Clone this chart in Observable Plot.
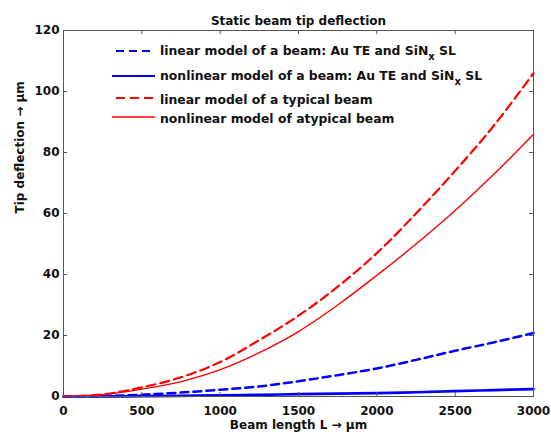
<!DOCTYPE html>
<html>
<head>
<meta charset="utf-8">
<script src="https://cdn.jsdelivr.net/npm/d3@7"></script>
<script src="https://cdn.jsdelivr.net/npm/@observablehq/plot@0.6"></script>
<style>
  html, body { margin: 0; padding: 0; background: #fff; }
  #chart { width: 551px; height: 438px; }
</style>
</head>
<body>
<div id="chart"></div>
<script>
// ---- Data ----
const beamLength = [0, 250, 500, 750, 1000, 1250, 1500, 1750, 2000, 2250, 2500, 2750, 3000];
const linearAu      = [0, 0.15, 0.6, 1.3, 2.2, 3.3, 5.0, 7.0, 9.2, 12.0, 15.0, 17.8, 20.8];
const nonlinearAu   = [0, 0.02, 0.1, 0.22, 0.38, 0.55, 0.75, 0.92, 1.1, 1.4, 1.75, 2.1, 2.4];
const linearTyp     = [0, 0.7, 3.0, 6.3, 11.3, 18.5, 26.5, 36.0, 47.0, 60.0, 74.0, 89.0, 106.0];
const nonlinearTyp  = [0, 0.6, 2.4, 4.9, 8.8, 14.4, 21.3, 30.0, 39.7, 50.0, 61.0, 73.0, 86.0];

const xTicks = [0, 500, 1000, 1500, 2000, 2500, 3000];
const yTicks = [0, 20, 40, 60, 80, 100, 120];

const titleText = "Static beam tip deflection";
const xLabel = "Beam length L \u2192 \u03bcm";
const yLabel = "Tip deflection \u2192 \u03bcm";

const seriesNames = [
  ["linear model of a beam: Au TE and SiN", "x", " SL"],
  ["nonlinear model of a beam: Au TE and SiN", "x", " SL"],
  ["linear model of a typical beam", "", ""],
  ["nonlinear model of atypical beam", "", ""]
];
const seriesValues = [linearAu, nonlinearAu, linearTyp, nonlinearTyp];

// ---- Styles ----
const styles = [
  {stroke: "#0000ff", width: 2.5, dash: "8,5"},
  {stroke: "#0000ff", width: 2.7, dash: null},
  {stroke: "#ff0000", width: 2.2, dash: "9,5"},
  {stroke: "#ff0000", width: 1.4, dash: null}
];

const W = 551, H = 438;
const mL = 63, mR = 18, mT = 30, mB = 42;
const pw = W - mL - mR, ph = H - mT - mB;
const tickLen = 4;
const frameColor = "#555";

const lineMarks = seriesValues.map((vals, i) => Plot.line(
  beamLength.map((L, j) => ({L, v: vals[j]})),
  {x: "L", y: "v", stroke: styles[i].stroke, strokeWidth: styles[i].width,
   strokeDasharray: styles[i].dash, curve: "catmull-rom"}
));

const chart = Plot.plot({
  width: W, height: H,
  marginLeft: mL, marginRight: mR, marginTop: mT, marginBottom: mB,
  style: {fontFamily: "'DejaVu Sans', sans-serif", fontWeight: "bold", fontSize: "12px", background: "#fff", color: "#000", overflow: "visible"},
  x: {domain: [0, 3000]},
  y: {domain: [0, 120]},
  marks: [
    ...lineMarks,
    Plot.frame({stroke: frameColor, strokeWidth: 1}),
    Plot.tickY(yTicks, {y: d => d, stroke: frameColor, insetRight: pw - tickLen}),
    Plot.tickY(yTicks, {y: d => d, stroke: frameColor, insetLeft: pw - tickLen}),
    Plot.tickX(xTicks, {x: d => d, stroke: frameColor, insetTop: ph - tickLen}),
    Plot.tickX(xTicks, {x: d => d, stroke: frameColor, insetBottom: ph - tickLen}),
    Plot.axisX(xTicks, {tickSize: 0, tickPadding: 10, tickFormat: d3.format("d"), fontWeight: "bold", fontSize: 12, fill: "#111", label: null}),
    Plot.axisY(yTicks, {tickSize: 0, tickPadding: 4, tickFormat: d3.format("d"), fontWeight: "bold", fontSize: 12, fill: "#111", label: null}),
    Plot.text([titleText], {text: d => d, frameAnchor: "top", dy: -14, fontWeight: "bold", fontSize: 12, fill: "#111"}),
    Plot.text([xLabel], {text: d => d, frameAnchor: "bottom", dy: 32, fontWeight: "bold", fontSize: 12, fill: "#111"}),
    Plot.text([yLabel], {text: d => d, frameAnchor: "left", dx: -43, rotate: -90, fontWeight: "bold", fontSize: 12, fill: "#111"})
  ]
});

// ---- Legend (inside the axes, upper left) ----
const legendRows = [
  {lineY: 51, textY: 55, x1: 116},
  {lineY: 76, textY: 80, x1: 112},
  {lineY: 98, textY: 104, x1: 116},
  {lineY: 117, textY: 123, x1: 112}
];
const legendX2 = 155, legendTextX = 160;
const svg = d3.select(chart);
const lg = svg.append("g").attr("class", "legend").attr("text-anchor", "start");
legendRows.forEach((r, i) => {
  const s = styles[i];
  lg.append("line")
    .attr("x1", r.x1).attr("x2", legendX2)
    .attr("y1", r.lineY).attr("y2", r.lineY)
    .attr("stroke", s.stroke)
    .attr("stroke-width", Math.min(s.width, 2.2))
    .attr("stroke-dasharray", s.dash);
  const t = lg.append("text")
    .attr("x", legendTextX).attr("y", r.textY)
    .attr("text-anchor", "start")
    .attr("fill", "#111")
    .attr("font-weight", "bold")
    .attr("font-size", 12.4);
  const [main, sub, rest] = seriesNames[i];
  t.append("tspan").text(main);
  if (sub) {
    t.append("tspan").attr("dy", 5).attr("font-size", 10).text(sub);
    t.append("tspan").attr("dy", -5).text(rest);
  }
});

document.getElementById("chart").appendChild(chart);
</script>
</body>
</html>
